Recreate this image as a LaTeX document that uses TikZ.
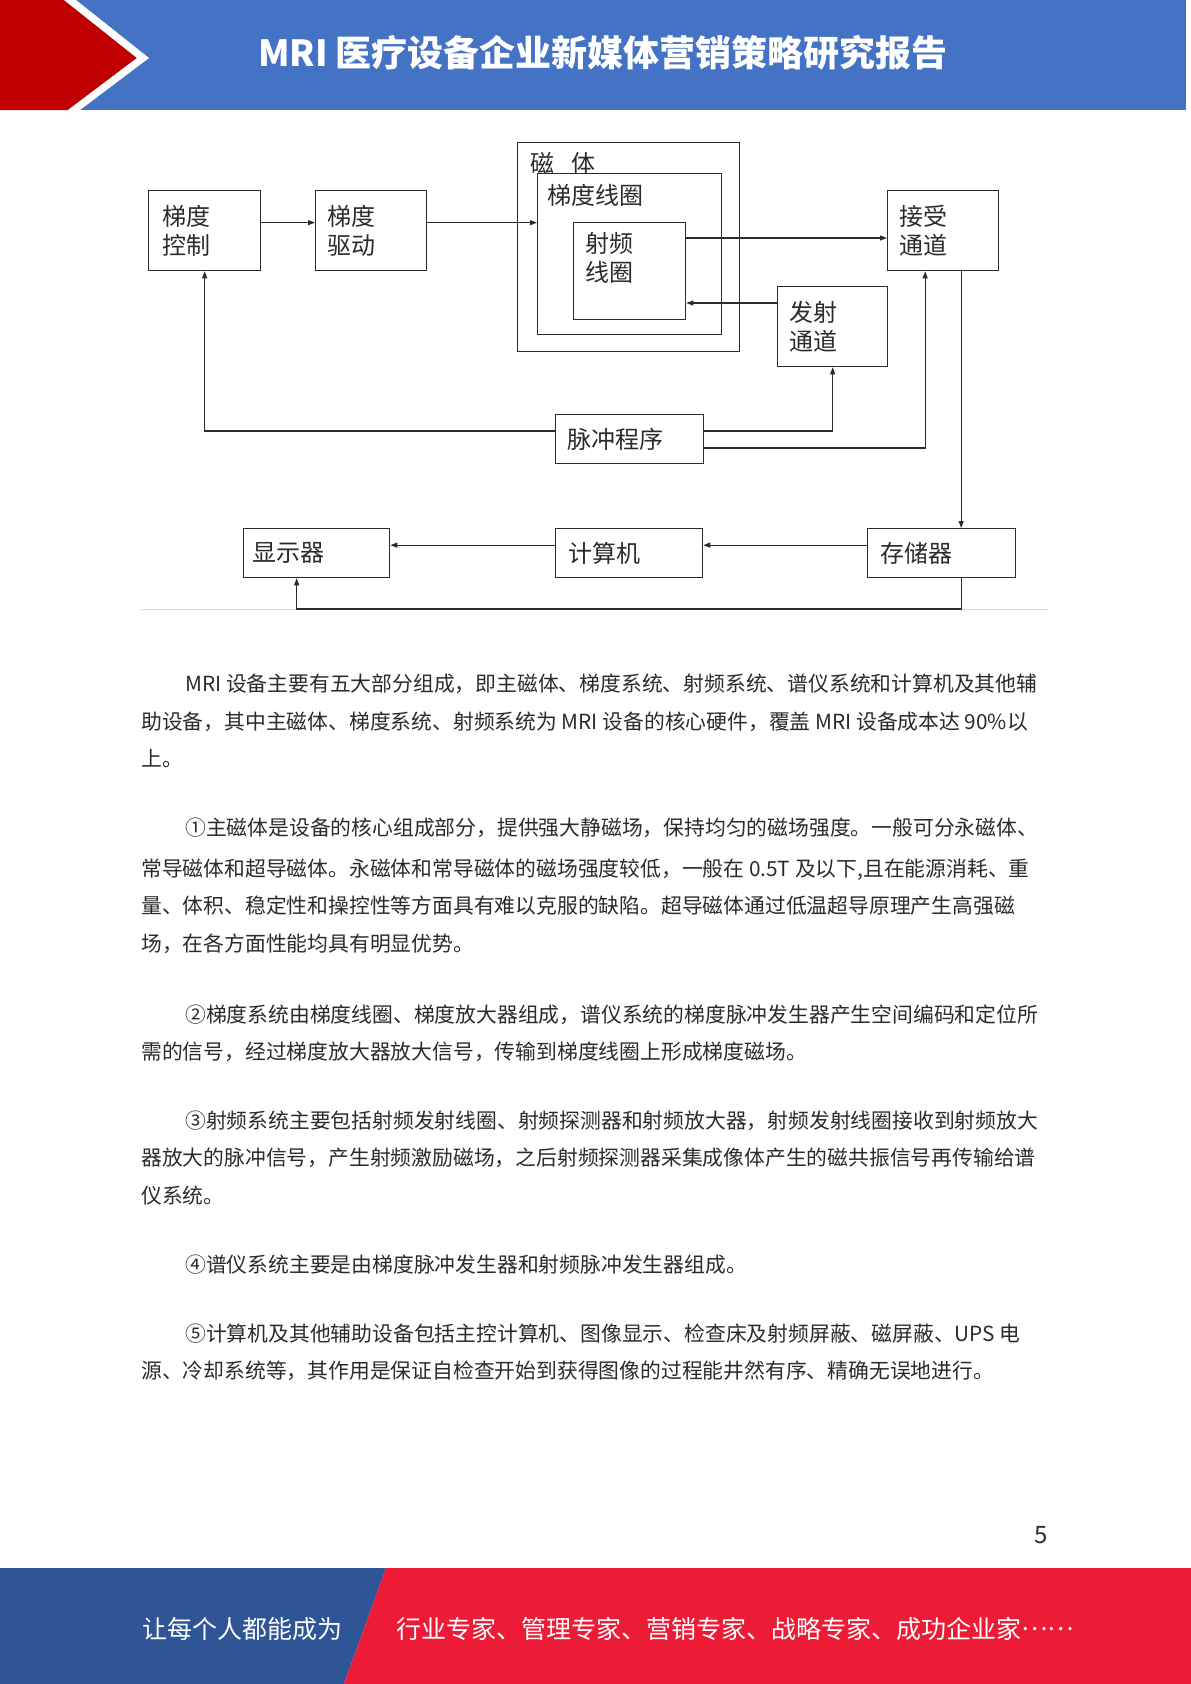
\documentclass[tikz,border=0pt]{standalone}
\usepackage{fontspec}
\setmainfont{Noto Sans CJK SC}
\usetikzlibrary{arrows.meta,calc}
\definecolor{hdrblue}{HTML}{4472C4}
\definecolor{hdrred}{HTML}{C00000}
\definecolor{ftblue}{HTML}{2F5597}
\definecolor{ftred}{HTML}{EE1B36}
\definecolor{rulecyan}{HTML}{C6E4EE}
\definecolor{ink}{HTML}{2B2B2B}
\begin{document}
\begin{tikzpicture}[x=1pt,y=-1pt,
  blk/.style n args={3}{draw=ink, line width=1.3pt, minimum width=#1, minimum height=#2,
    text width=#3, inner xsep=0pt, inner ysep=0pt, align=left, anchor=north west,
    font=\fontsize{24}{29}\selectfont, text=ink},
  frame/.style n args={2}{draw=ink, line width=1.3pt, minimum width=#1, minimum height=#2,
    inner sep=0pt, anchor=north west},
  lbl/.style={anchor=west, inner sep=0pt, font=\fontsize{24}{29}\selectfont, text=ink, align=left},
  arr/.style={draw=ink, line width=1.2pt, -{Triangle[length=7pt,width=5pt]}},
  body/.style={anchor=base west, inner sep=0pt, font=\fontsize{20.8}{20.8}\selectfont, text=ink},
  foot/.style={anchor=west, inner sep=0pt, text=white, font=\fontsize{25}{25}\selectfont}
]
\useasboundingbox (0,0) rectangle (1191,1684);
\fill[white] (0,0) rectangle (1191,1684);

% ---------- header ----------
\fill[hdrblue] (0,0) rectangle (1186,110);
\fill[hdrred] (0,0) -- (64,0) -- (137,58) -- (68,110) -- (0,110) -- cycle;
\fill[white] (64,0) -- (76,0) -- (149,58) -- (80,110) -- (68,110) -- (137,58) -- cycle;
\node[text=white, inner sep=0pt, font=\bfseries\fontsize{36}{36}\selectfont] (title) at (603,53)
  {MRI 医疗设备企业新媒体营销策略研究报告};

% ---------- diagram ----------
\draw[rulecyan, line width=1.5pt] (141,609.5) -- (1048,609.5);

\node[blk={112pt}{80pt}{85pt}] (gc) at (148,190) {梯度\\控制};
\node[blk={111pt}{80pt}{88pt}] (gd) at (315,190) {梯度\\驱动};

\node[frame={222pt}{209pt}] (magnet) at (517,142) {};
\node[lbl] (magnetlbl) at (530,163) {磁\hspace{17pt}体};
\node[frame={184pt}{161pt}] (gcoil) at (537,173) {};
\node[lbl] (gcoillbl) at (547,195) {梯度线圈};
\node[frame={112pt}{97pt}] (rf) at (573,222) {};
\node[lbl] (rflbl) at (585,258) {射频\\线圈};

\node[blk={111pt}{80pt}{87pt}] (recv) at (887,190) {接受\\通道};
\node[blk={110pt}{80pt}{86pt}] (tx) at (777,286) {发射\\通道};
\node[blk={148pt}{49pt}{124pt}] (pulse) at (555,414) {脉冲程序};

\node[blk={146pt}{49pt}{128pt}] (disp) at (243,528) {显示器};
\node[blk={147pt}{49pt}{122pt}] (comp) at (555,528) {计算机};
\node[blk={148pt}{49pt}{122pt}] (store) at (867,528) {存储器};

% connectors
\coordinate (gco) at ([yshift=8pt]gc.east);
\draw[arr] (gco) -- (gco -| gd.west);
\coordinate (gdo) at ([yshift=8pt]gd.east);
\draw[arr] (gdo) -- (gdo -| gcoil.west);
\coordinate (rfo) at ([yshift=-16pt]rf.north east);
\draw[arr] (rfo) -- (rfo -| recv.west);
\coordinate (txo) at ([yshift=-17pt]tx.north west);
\draw[arr] (txo) -- (txo -| rf.east);
\coordinate (pL) at ([yshift=-17pt]pulse.north west);
\draw[arr] (pL) -| (gc.south);
\coordinate (pR1) at ([yshift=-17pt]pulse.north east);
\draw[arr] (pR1) -| (tx.south);
\coordinate (pR2) at ([yshift=-34pt]pulse.north east);
\coordinate (rin) at ([xshift=-18pt]recv.south);
\draw[arr] (pR2) -| (rin);
\coordinate (rout) at ([xshift=18pt]recv.south);
\draw[arr] (rout) -- (rout |- store.north);
\coordinate (so) at ([yshift=8pt]store.west);
\draw[arr] (so) -- (so -| comp.east);
\coordinate (co) at ([yshift=8pt]comp.west);
\draw[arr] (co) -- (co -| disp.east);
\coordinate (sbot) at (rout |- store.south);
\coordinate (bline) at (0,609);
\coordinate (din) at ([xshift=-20pt]disp.south);
\draw[arr] (sbot) -- (sbot |- bline) -| (din);

% ---------- body text ----------
\node[body] (p1a) at (185,691) {MRI 设备主要有五大部分组成，即主磁体、梯度系统、射频系统、谱仪系统和计算机及其他辅};
\node[body] (p1b) at (141,729) {助设备，其中主磁体、梯度系统、射频系统为 MRI 设备的核心硬件，覆盖 MRI 设备成本达 90\%以};
\node[body] (p1c) at (141,766) {上。};

\node[body] (p2a) at (185,835) {①主磁体是设备的核心组成部分，提供强大静磁场，保持均匀的磁场强度。一般可分永磁体、};
\node[body] (p2b) at (141,876) {常导磁体和超导磁体。永磁体和常导磁体的磁场强度较低，一般在 0.5T 及以下,且在能源消耗、重};
\node[body] (p2c) at (141,913) {量、体积、稳定性和操控性等方面具有难以克服的缺陷。超导磁体通过低温超导原理产生高强磁};
\node[body] (p2d) at (141,951) {场，在各方面性能均具有明显优势。};

\node[body] (p3a) at (185,1022) {②梯度系统由梯度线圈、梯度放大器组成，谱仪系统的梯度脉冲发生器产生空间编码和定位所};
\node[body] (p3b) at (141,1059) {需的信号，经过梯度放大器放大信号，传输到梯度线圈上形成梯度磁场。};

\node[body] (p4a) at (185,1128) {③射频系统主要包括射频发射线圈、射频探测器和射频放大器，射频发射线圈接收到射频放大};
\node[body] (p4b) at (141,1165) {器放大的脉冲信号，产生射频激励磁场，之后射频探测器采集成像体产生的磁共振信号再传输给谱};
\node[body] (p4c) at (141,1203) {仪系统。};

\node[body] (p5a) at (185,1272) {④谱仪系统主要是由梯度脉冲发生器和射频脉冲发生器组成。};

\node[body] (p6a) at (185,1341) {⑤计算机及其他辅助设备包括主控计算机、图像显示、检查床及射频屏蔽、磁屏蔽、UPS 电};
\node[body] (p6b) at (141,1378) {源、冷却系统等，其作用是保证自检查开始到获得图像的过程能井然有序、精确无误地进行。};

\node[inner sep=0pt, text=ink, font=\fontsize{24}{24}\selectfont] (pnum) at (1041,1535) {5};

% ---------- footer ----------
\fill[ftblue] (0,1568) -- (386,1568) -- (344,1684) -- (0,1684) -- cycle;
\fill[ftred] (386,1568) -- (1191,1568) -- (1191,1684) -- (344,1684) -- cycle;
\node[foot] (slogan1) at (142,1629) {让每个人都能成为};
\node[foot] (slogan2) at (396,1629) {行业专家、管理专家、营销专家、战略专家、成功企业家\raisebox{0.32em}{……}};
\end{tikzpicture}
\end{document}
